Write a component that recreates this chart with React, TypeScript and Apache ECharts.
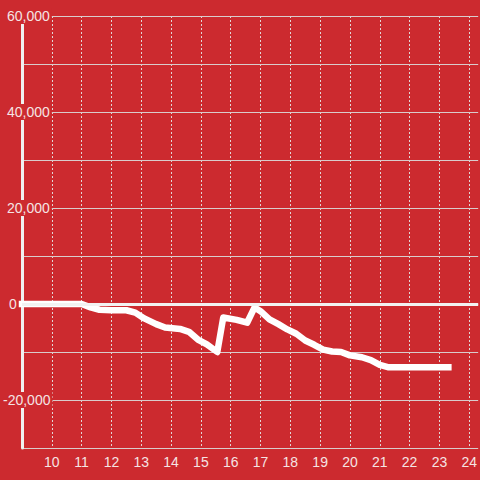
import React, { useEffect, useRef } from "react";
import * as echarts from "echarts";

const hours = [
  9.0, 11.0, 11.3, 11.6, 12.0, 12.5, 12.8, 13.1, 13.5, 13.8, 14.3, 14.6, 14.9, 15.2, 15.55,
  15.75, 16.2, 16.55, 16.8, 17.0, 17.3, 17.6, 17.9, 18.2, 18.5, 18.8, 19.1, 19.4, 19.7, 20.0,
  20.4, 20.7, 21.0, 21.3, 23.3,
];
const values = [
  0, 0, -700, -1200, -1300, -1300, -1800, -3000, -4200, -4900, -5200, -5800, -7400, -8400, -10000,
  -2800, -3300, -3900, -700, -1500, -3200, -4200, -5300, -6200, -7600, -8500, -9500, -9900, -10000, -10700,
  -11100, -11700, -12700, -13200, -13200,
];
const xLabels = ["10", "11", "12", "13", "14", "15", "16", "17", "18", "19", "20", "21", "22", "23", "24"];
const yLabelValues = [-20000, 0, 20000, 40000, 60000];

const BG = "#cc2a2f";
const TEXT = "#f5e4e4";

export default function App() {
  const ref = useRef<HTMLDivElement>(null);
  useEffect(() => {
    if (!ref.current) return;
    const chart = echarts.init(ref.current, null, { renderer: "svg" });
    const fmt = (v: number) => v.toLocaleString("en-US");
    chart.setOption({
      animation: false,
      backgroundColor: BG,
      textStyle: { fontFamily: "Liberation Sans, Arial, sans-serif" },
      grid: { left: 21, right: 0, top: 16, bottom: 32, containLabel: false },
      xAxis: {
        type: "value",
        min: 9,
        max: 24.3,
        interval: 1,
        z: 0,
        axisLine: { show: false },
        axisTick: { show: false },
        axisLabel: {
          color: TEXT,
          fontSize: 14,
          margin: 7,
          showMaxLabel: false,
          formatter: (v: number) => {
            const s = String(Math.round(v));
            return Math.abs(v - Math.round(v)) < 1e-6 && xLabels.includes(s) ? s : "";
          },
        },
        splitLine: {
          show: true,
          showMaxLine: false,
          lineStyle: { color: "#e2d6d6", width: 1, type: [2, 2] },
        },
      },
      yAxis: {
        type: "value",
        min: -30000,
        max: 60000,
        interval: 10000,
        z: 1,
        axisLine: { show: true, onZero: false, lineStyle: { color: "#f0f0f0", width: 3 } },
        axisTick: { show: false },
        axisLabel: {
          color: TEXT,
          fontSize: 14,
          align: "left",
          margin: 19,
          backgroundColor: BG,
          padding: [1, 0, 1, 0],
          formatter: (v: number) => {
            if (!yLabelValues.includes(v)) return "";
            if (v === 0) return "{z|0}";
            if (v < 0) return "{n|" + fmt(v) + "}";
            return "{p|" + fmt(v) + "}";
          },
          rich: {
            z: { color: TEXT, fontSize: 14, padding: [0, 2, 0, 6] },
            n: { color: TEXT, fontSize: 14, padding: [0, 2, 0, 0] },
            p: { color: TEXT, fontSize: 14, padding: [0, 2, 0, 4] },
          },
        },
        splitLine: { show: true, lineStyle: { color: "#d9cccc", width: 1 } },
      },
      series: [
        {
          type: "line",
          data: hours.map((h, i) => [h, values[i]]),
          showSymbol: false,
          symbol: "none",
          z: 3,
          lineStyle: { color: "#ffffff", width: 6.5, join: "round", cap: "square" },
          markLine: {
            silent: true,
            symbol: "none",
            label: { show: false },
            lineStyle: { color: "#f2f2f2", width: 3, type: "solid" },
            data: [{ yAxis: 0 }],
          },
        },
      ],
    });
    return () => chart.dispose();
  }, []);
  return <div ref={ref} style={{ width: 480, height: 480, position: "absolute", left: 0, top: 0 }} />;
}
